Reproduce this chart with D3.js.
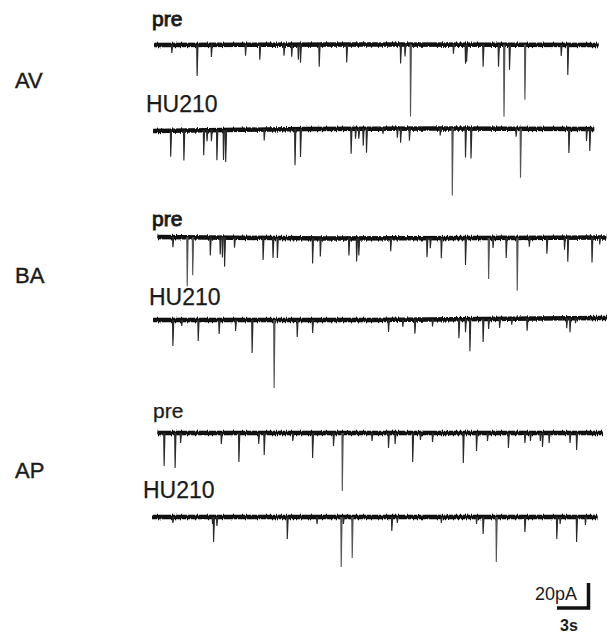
<!DOCTYPE html>
<html>
<head>
<meta charset="utf-8">
<script src="https://cdn.jsdelivr.net/npm/d3@7"></script>
<style>
  body { margin: 0; background: #fff; }
  svg { display: block; font-family: Arial, "Liberation Sans", sans-serif; }
</style>
</head>
<body>
<svg id="chart" width="607" height="636"></svg>
<script>
// recording data: time in s, current in pA (events are downward currents)
var conditions = ["AV", "BA", "AP"]
var traceNames = ["pre", "HU210", "pre", "HU210", "pre", "HU210"]

// start / end time of each sweep (s)
var spans = [[0.2, 40.6], [0.1, 40.2], [0.5, 41.3], [0.1, 41.4], [0.5, 41.0], [0.0, 40.5]]

// [time, amplitude] of each visible event
var eventsAVpre = [[1.8, -6.4], [4.1, -24.8], [5.4, -9.6], [8.5, -8.8], [9.8, -12], [12.0, -8.8], [12.7, -9.6],
  [13.3, -12], [13.5, -14.4], [15.2, -17.6], [17.7, -14.4], [22.6, -15.2], [23.0, -9.6], [23.5, -57.6],
  [27.4, -7.2], [28.5, -15.2], [28.6, -13.6], [30.1, -17.6], [31.5, -17.6], [32.0, -57.6], [32.5, -20],
  [33.9, -44], [37.2, -8.8], [37.8, -24]]
var eventsAVhu = [[1.7, -20.8], [2.9, -24], [4.7, -20], [5.0, -8.8], [5.4, -8.8], [5.9, -24], [6.5, -24],
  [6.7, -25.6], [10.2, -8.8], [13.0, -28.8], [13.5, -22.4], [18.1, -20], [18.5, -8], [18.8, -8], [19.2, -13.6],
  [19.5, -19.2], [21.0, -4], [22.3, -7.2], [22.6, -11.2], [23.4, -9.6], [26.2, -5.6], [27.3, -53.6],
  [28.5, -23.2], [29.0, -24], [33.1, -6.4], [33.5, -39.2], [37.9, -19.2], [39.5, -9.6], [39.8, -17.6]]
var eventsBApre = [[1.9, -8], [3.2, -39.2], [3.7, -30.4], [5.3, -14.4], [6.2, -13.6], [6.4, -16], [6.6, -23.2],
  [7.5, -8], [10.1, -17.6], [11.0, -16], [11.4, -16], [14.6, -20], [15.3, -14.4], [17.9, -13.6], [18.6, -18.4],
  [18.8, -13.6], [21.7, -10.4], [25.0, -15.2], [25.3, -8], [26.3, -16], [28.5, -21.6], [30.6, -32.8], [31.0, -8],
  [32.2, -16], [33.2, -42.4], [34.3, -7.2], [35.9, -12.8], [37.5, -9.6], [37.8, -19.2], [40.0, -20], [40.7, -5.6]]
var eventsBAhu = [[1.9, -20.8], [2.7, -4.8], [4.2, -16.8], [6.1, -11.2], [7.6, -8.8], [9.1, -26.4], [11.1, -54.4],
  [13.2, -13.6], [14.6, -10.4], [21.5, -9.6], [22.8, -5.6], [23.9, -11.2], [25.5, -5.6], [27.9, -15.2],
  [28.5, -10.4], [28.9, -25.6], [30.1, -18.4], [30.6, -8], [31.6, -7.2], [32.7, -4.8], [34.1, -9.6], [37.7, -8],
  [38.0, -11.2], [38.5, -4]]
var eventsAPpre = [[1.1, -26.4], [2.1, -28], [2.6, -8], [6.3, -8.8], [7.9, -23.2], [9.7, -8.8], [10.2, -17.6],
  [12.8, -6.4], [14.6, -20], [16.5, -10.4], [17.3, -46.4], [20.0, -6.4], [21.5, -12], [22.1, -8.8], [23.7, -23.2],
  [24.4, -5.6], [25.5, -7.2], [28.3, -24], [29.5, -14.4], [30.5, -6.4], [32.4, -12], [33.9, -8], [34.4, -6.4],
  [35.3, -6.4], [35.5, -11.2], [36.1, -8], [38.0, -8], [38.6, -13.6]]
var eventsAPhu = [[1.9, -4.8], [5.5, -5.6], [5.6, -20], [5.9, -7.2], [12.3, -17.6], [15.0, -5.6], [17.2, -40],
  [17.4, -5.6], [18.2, -32.8], [21.8, -11.2], [22.3, -4.8], [26.3, -4.8], [29.5, -5.6], [30.1, -13.6],
  [31.3, -36], [33.9, -12], [36.8, -17.6], [37.1, -5.6], [38.6, -20], [39.4, -6.4]]
var allEvents = [eventsAVpre, eventsAVhu, eventsBApre, eventsBAhu, eventsAPpre, eventsAPhu]

// slow baseline drift, [time, pA]
var drifts = [
  [[0, 0], [20, 0.4], [41, 0]],
  [[0, -0.8], [14, 0.8], [26, 1.2], [41, 0.8]],
  [[0, 0.8], [16, -0.4], [30, 0], [41, 0.4]],
  [[0, 0], [20, 0], [41, 1.6]],
  [[0, 0], [41, 0]],
  [[0, 0], [41, 0]]
]

// scale bar
var barTime = 3
var barCurrent = 20

var svg = d3.select("#chart")

// recording noise look: jitter the baseline vertically
var defs = svg.append("defs")
var flt = defs.append("filter").attr("id", "noise")
  .attr("filterUnits", "userSpaceOnUse")
  .attr("x", 140).attr("y", -20).attr("width", 470).attr("height", 40)
flt.append("feTurbulence").attr("type", "fractalNoise")
  .attr("baseFrequency", "0.8 0.02").attr("numOctaves", 2).attr("seed", 3).attr("result", "turb")
flt.append("feColorMatrix").attr("in", "turb").attr("type", "matrix")
  .attr("values", "0 0 0 0 0.5  0 1 0 0 0  0 0 0 0 0  0 0 0 0 1").attr("result", "shift")
flt.append("feDisplacementMap").attr("in", "SourceGraphic").attr("in2", "shift")
  .attr("scale", 5).attr("xChannelSelector", "R").attr("yChannelSelector", "G")

var x = d3.scaleLinear().domain([0, 41]).range([152, 603])
var y = d3.scaleLinear().domain([0, -20]).range([0, 25])  // pA -> px below baseline

var rowY = [45, 130, 238, 320, 433, 517]

// condition labels
var condY = [88, 283, 478]
svg.selectAll("text.cond")
  .data(conditions)
  .enter().append("text")
  .attr("class", "cond")
  .attr("x", 15)
  .attr("y", function(d, i) { return condY[i] })
  .style("font-size", "22px")
  .style("fill", "#1a1a1a")
  .style("stroke", "#1a1a1a")
  .style("stroke-width", 0.4)
  .text(function(d) { return d })

// trace labels
var nameX = [152, 146, 152, 149, 153, 143]
var nameY = [26, 112, 226, 305, 418, 498]
svg.selectAll("text.name")
  .data(traceNames)
  .enter().append("text")
  .attr("class", "name")
  .attr("x", function(d, i) { return nameX[i] })
  .attr("y", function(d, i) { return nameY[i] })
  .style("font-size", function(d) { return d == "pre" ? "21px" : "23px" })
  .style("fill", "#1a1a1a")
  .style("stroke", "#1a1a1a")
  .style("stroke-width", function(d, i) { return (d == "pre" && i < 4) ? 0.9 : 0.25 })
  .text(function(d) { return d })

function driftAt(i, t) {
  var d = drifts[i]
  var k = d3.bisector(function(p) { return p[0] }).right(d, t) - 1
  k = Math.max(0, Math.min(k, d.length - 2))
  var a = d[k], b = d[k + 1]
  return a[1] + (b[1] - a[1]) * (t - a[0]) / (b[0] - a[0])
}

var line = d3.line()

spans.forEach(function(span, i) {
  var g = svg.append("g").attr("transform", "translate(0," + rowY[i] + ")")

  // baseline: solid core plus a jittered noise band
  var pts = [[span[0], driftAt(i, span[0])]]
  drifts[i].forEach(function(p) { if (p[0] > span[0] && p[0] < span[1]) pts.push(p) })
  pts.push([span[1], driftAt(i, span[1])])
  var basePath = line(pts.map(function(p) { return [x(p[0]), y(p[1])] }))

  g.append("path").attr("d", basePath)
    .attr("filter", "url(#noise)")
    .style("fill", "none").style("stroke", "#111").style("stroke-width", 4.5)
  g.append("path").attr("d", basePath)
    .style("fill", "none").style("stroke", "#111").style("stroke-width", 2.4)

  // events: fast downward deflection, slower return
  g.selectAll("path.ev")
    .data(allEvents[i])
    .enter().append("path")
    .attr("class", "ev")
    .attr("d", function(d) {
      var b = y(driftAt(i, d[0]))
      return line([[x(d[0]) - 0.4, b], [x(d[0]), b + y(d[1])], [x(d[0]) + 0.9, b]])
    })
    .style("fill", "#333")
    .style("stroke", function(d) { return d[1] < -30 ? "#555" : "#2a2a2a" })
    .style("stroke-width", 1.1)
})

// scale bar
var bx1 = 590, by1 = 608
var bx0 = bx1 - (x(barTime) - x(0))
var by0 = by1 - y(-barCurrent)
svg.append("path")
  .attr("d", line([[bx0, by1], [bx1 - 1.5, by1], [bx1 - 1.5, by0]]))
  .style("fill", "none")
  .style("stroke", "#111")
  .style("stroke-width", 3.5)

svg.append("text")
  .attr("x", 535).attr("y", 600)
  .style("font-size", "18px")
  .style("fill", "#1a1a1a")
  .text(barCurrent + "pA")

svg.append("text")
  .attr("x", 560).attr("y", 631)
  .style("font-size", "16px")
  .style("font-weight", "bold")
  .style("fill", "#1a1a1a")
  .text(barTime + "s")
</script>
</body>
</html>
